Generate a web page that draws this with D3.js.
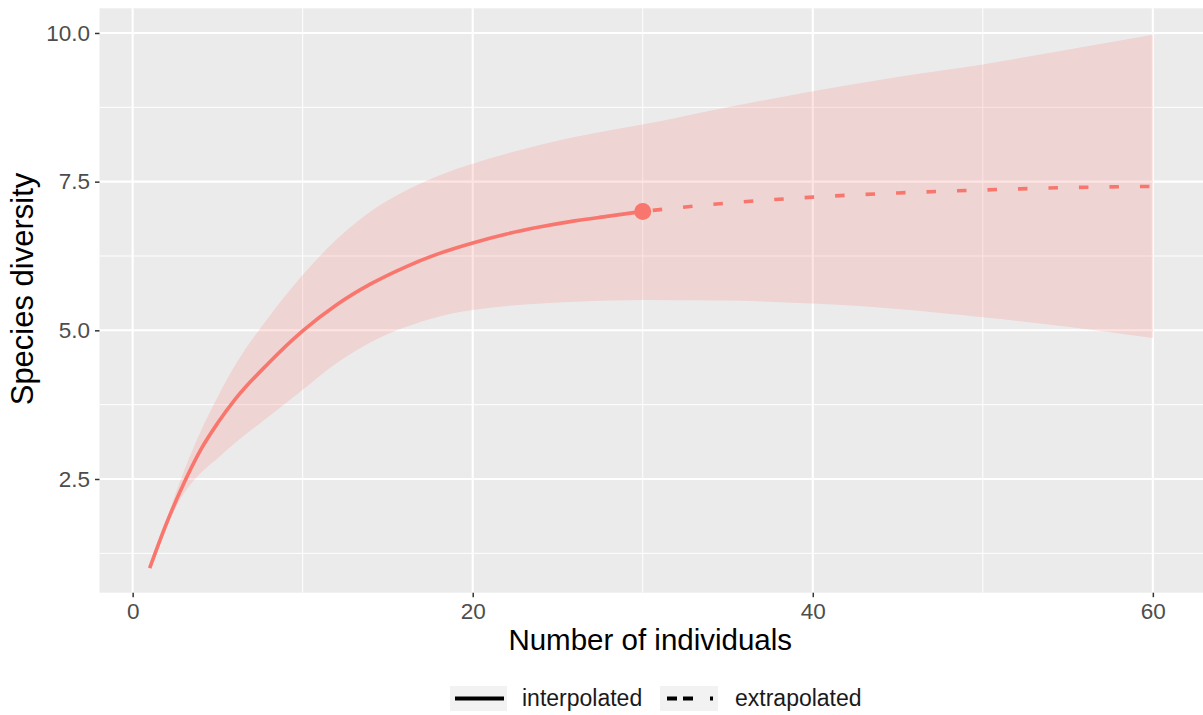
<!DOCTYPE html>
<html>
<head>
<meta charset="utf-8">
<script src="https://cdn.jsdelivr.net/npm/d3@7"></script>
<style>
  html, body { margin: 0; padding: 0; background: #ffffff; }
  svg { display: block; font-family: "Liberation Sans", Arial, Helvetica, sans-serif; }
</style>
</head>
<body>
<svg id="chart" width="1203" height="715"></svg>
<script>
// ---- data ----
const interpN     = [1, 2, 3, 4, 5, 6, 8, 10, 12, 14, 16, 18, 20, 22, 24, 26, 28, 30];
const interpQD    = [1.0, 1.76, 2.42, 2.99, 3.44, 3.83, 4.45, 4.99, 5.43, 5.78, 6.06, 6.29, 6.47, 6.62, 6.74, 6.84, 6.92, 7.0];
const interpLCL   = [1.0, 1.7, 2.25, 2.6, 2.85, 3.1, 3.55, 4.0, 4.45, 4.8, 5.05, 5.23, 5.34, 5.41, 5.45, 5.48, 5.5, 5.51];
const interpUCL   = [1.0, 1.82, 2.62, 3.3, 3.88, 4.4, 5.22, 5.93, 6.53, 7.0, 7.34, 7.6, 7.8, 7.97, 8.12, 8.25, 8.36, 8.46];

const extrapN     = [30, 35, 40, 45, 50, 55, 60];
const extrapQD    = [7.0, 7.14, 7.24, 7.31, 7.36, 7.40, 7.42];
const extrapLCL   = [5.51, 5.5, 5.45, 5.36, 5.22, 5.06, 4.87];
const extrapUCL   = [8.46, 8.75, 9.02, 9.26, 9.47, 9.72, 9.97];

const observedN   = 30;
const observedQD  = 7.0;

const xTicks = [0, 20, 40, 60];
const xMinor = [10, 30, 50];
const yTicks = [2.5, 5.0, 7.5, 10.0];
const yMinor = [1.25, 3.75, 6.25, 8.75];

const xTitle = "Number of individuals";
const yTitle = "Species diversity";
const legendLabels = ["interpolated", "extrapolated"];

// ---- layout ----
const svg = d3.select("#chart");
const panel = { left: 99.5, top: 8.3, right: 1203, bottom: 592.7 };
const col = "#F8766D";

const x = d3.scaleLinear().domain([-1.95, 62.95]).range([panel.left, panel.right]);
const y = d3.scaleLinear().domain([0.588, 10.415]).range([panel.bottom, panel.top]);

// panel background
svg.append("rect")
  .attr("x", panel.left).attr("y", panel.top)
  .attr("width", panel.right - panel.left).attr("height", panel.bottom - panel.top)
  .attr("fill", "#EBEBEB");

// grid
const grid = svg.append("g");
grid.selectAll(".xminor").data(xMinor).enter().append("line")
  .attr("x1", d => x(d)).attr("x2", d => x(d))
  .attr("y1", panel.top).attr("y2", panel.bottom)
  .attr("stroke", "#fff").attr("stroke-width", 1);
grid.selectAll(".yminor").data(yMinor).enter().append("line")
  .attr("y1", d => y(d)).attr("y2", d => y(d))
  .attr("x1", panel.left).attr("x2", panel.right)
  .attr("stroke", "#fff").attr("stroke-width", 1);
grid.selectAll(".xmajor").data(xTicks).enter().append("line")
  .attr("x1", d => x(d)).attr("x2", d => x(d))
  .attr("y1", panel.top).attr("y2", panel.bottom)
  .attr("stroke", "#fff").attr("stroke-width", 2.1);
grid.selectAll(".ymajor").data(yTicks).enter().append("line")
  .attr("y1", d => y(d)).attr("y2", d => y(d))
  .attr("x1", panel.left).attr("x2", panel.right)
  .attr("stroke", "#fff").attr("stroke-width", 2.1);

// confidence band
const bandData = interpN.map((n, i) => ({ n, lo: interpLCL[i], hi: interpUCL[i] }))
  .concat(extrapN.slice(1).map((n, i) => ({ n, lo: extrapLCL[i + 1], hi: extrapUCL[i + 1] })));
const area = d3.area()
  .x(d => x(d.n)).y0(d => y(d.lo)).y1(d => y(d.hi))
  .curve(d3.curveMonotoneX);
svg.append("path").datum(bandData)
  .attr("d", area).attr("fill", col).attr("fill-opacity", 0.2);

// lines
const line = d3.line().x(d => x(d.n)).y(d => y(d.v)).curve(d3.curveMonotoneX);
const interp = interpN.map((n, i) => ({ n, v: interpQD[i] }));
const extrap = extrapN.map((n, i) => ({ n, v: extrapQD[i] }));
svg.append("path").datum(interp).attr("d", line)
  .attr("fill", "none").attr("stroke", col).attr("stroke-width", 3.6);
svg.append("path").datum(extrap).attr("d", line)
  .attr("fill", "none").attr("stroke", col).attr("stroke-width", 3.6)
  .attr("stroke-dasharray", "0,10,9.5,11");

// observed point
svg.append("circle")
  .attr("cx", x(observedN)).attr("cy", y(observedQD)).attr("r", 8.5)
  .attr("fill", col);

// axes
const yAxis = svg.append("g").attr("transform", `translate(${panel.left},0)`)
  .call(d3.axisLeft(y).tickValues(yTicks).tickFormat(d3.format(".1f")).tickSize(4.5).tickPadding(5));
const xAxis = svg.append("g").attr("transform", `translate(0,${panel.bottom})`)
  .call(d3.axisBottom(x).tickValues(xTicks).tickFormat(d3.format("d")).tickSize(4.5).tickPadding(6));
[xAxis, yAxis].forEach(a => {
  a.select(".domain").remove();
  a.selectAll(".tick line").attr("stroke", "#333").attr("stroke-width", 1.5);
  a.selectAll(".tick text").attr("fill", "#4D4D4D")
    .style("font-size", "22.5px").style("font-family", "'Liberation Sans', Arial, sans-serif");
});

// axis titles
svg.append("text")
  .attr("x", (x(-1.95) + x(62.95)) / 2 - 1).attr("y", 650)
  .attr("text-anchor", "middle").attr("fill", "#000")
  .style("font-size", "29.5px").text(xTitle);
svg.append("text")
  .attr("transform", `translate(33,289) rotate(-90)`)
  .attr("text-anchor", "middle").attr("fill", "#000")
  .style("font-size", "31px").text(yTitle);

// legend
const legend = svg.append("g");
const keys = [
  { x0: 450, w: 57, dash: null, label: legendLabels[0], tx: 522 },
  { x0: 660, w: 58, dash: "10,6,10,17,3,20", label: legendLabels[1], tx: 735 }
];
keys.forEach(k => {
  legend.append("rect").attr("x", k.x0).attr("y", 686).attr("width", k.w).attr("height", 25)
    .attr("fill", "#F2F2F2");
  const ln = legend.append("line")
    .attr("x1", k.x0 + 5).attr("x2", k.x0 + k.w - 3)
    .attr("y1", 698.5).attr("y2", 698.5)
    .attr("stroke", "#000").attr("stroke-width", 3.8);
  if (k.dash) ln.attr("stroke-dasharray", k.dash).attr("x1", k.x0 + 7);
  legend.append("text").attr("x", k.tx).attr("y", 706)
    .attr("fill", "#1a1a1a").style("font-size", "23px").text(k.label);
});
</script>
</body>
</html>
